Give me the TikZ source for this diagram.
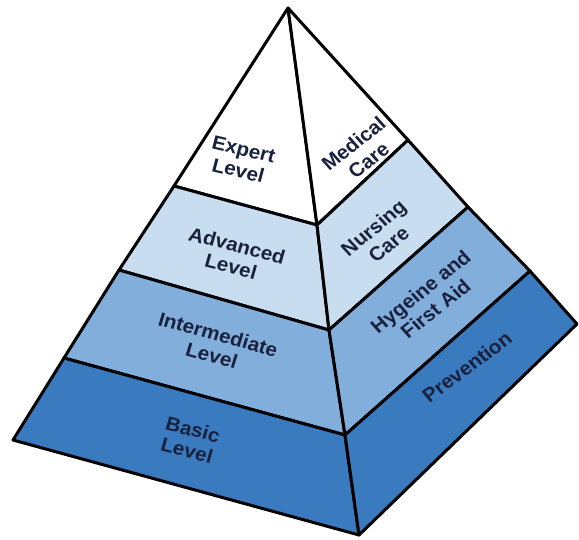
\documentclass[tikz,border=0pt]{standalone}
\usepackage{fontspec}
\setmainfont{Liberation Sans}
\usetikzlibrary{positioning}

\definecolor{lvlwhite}{RGB}{255,255,255}
\definecolor{lvllight}{RGB}{201,221,240}
\definecolor{lvlmid}{RGB}{130,174,219}
\definecolor{lvldark}{RGB}{58,122,191}
\definecolor{lbltext}{RGB}{26,33,62}

\begin{document}
\begin{tikzpicture}[x=1pt, y=-1pt,
    face/.style={draw=black, line width=3pt, line join=round},
    lbl/.style={align=center, inner sep=0pt, text=lbltext, xscale=1.06,
                font=\fontsize{19.5}{22}\selectfont\bfseries}]
    \useasboundingbox (0,0) rectangle (579,539);
    % corners and band breaks
    \coordinate (apex)  at (288,8);
    \coordinate (left)  at (13,440);
    \coordinate (front) at (359,535);
    \coordinate (right) at (577,324);
    \coordinate (l1) at (174,186); \coordinate (l2) at (119,270); \coordinate (l3) at (64,358);
    \coordinate (m1) at (317,225); \coordinate (m2) at (329,330); \coordinate (m3) at (345,435);
    \coordinate (r1) at (408,140); \coordinate (r2) at (468,207); \coordinate (r3) at (530,271);
    % left face
    \filldraw[face, fill=lvlwhite] (apex)--(l1)--(m1)--cycle;
    \filldraw[face, fill=lvllight] (l1)--(l2)--(m2)--(m1)--cycle;
    \filldraw[face, fill=lvlmid]   (l2)--(l3)--(m3)--(m2)--cycle;
    \filldraw[face, fill=lvldark]  (l3)--(left)--(front)--(m3)--cycle;
    % right face
    \filldraw[face, fill=lvlwhite] (apex)--(m1)--(r1)--cycle;
    \filldraw[face, fill=lvllight] (m1)--(m2)--(r2)--(r1)--cycle;
    \filldraw[face, fill=lvlmid]   (m2)--(m3)--(r3)--(r2)--cycle;
    \filldraw[face, fill=lvldark]  (m3)--(front)--(right)--(r3)--cycle;
    % labels
    \node[lbl, rotate=-14] (expert) at (241,160) {Expert\\Level};
    \node[lbl, rotate=-15] (adv)    at (234,256) {Advanced\\Level};
    \node[lbl, rotate=-16] (inter)  at (215,345) {Intermediate\\Level};
    \node[lbl, rotate=-15] (basic)  at (190,440) {Basic\\Level};
    \node[lbl, rotate=40]  (med)    at (361,152) {Medical\\Care};
    \node[lbl, rotate=41]  (nurse)  at (381,236) {Nursing\\Care};
    \node[lbl, rotate=40]  (hyg)    at (428,300) {Hygeine and\\First Aid};
    \node[lbl, rotate=38]  (prev)   at (467,367) {Prevention};
\end{tikzpicture}
\end{document}
